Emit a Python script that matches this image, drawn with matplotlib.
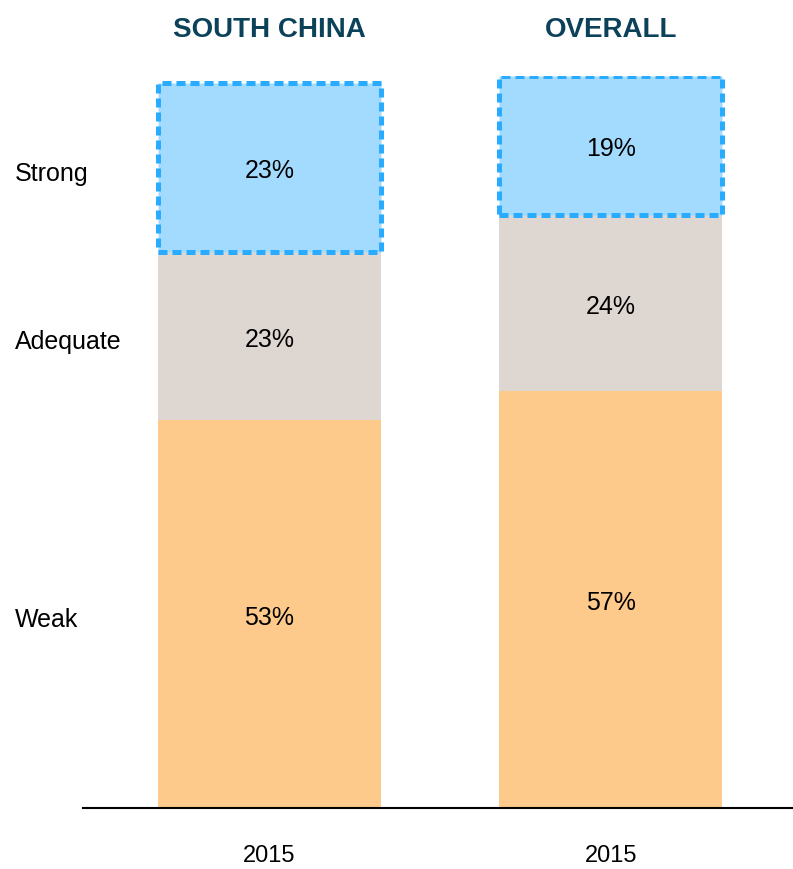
import matplotlib
matplotlib.use("Agg")
import matplotlib.pyplot as plt
from matplotlib import font_manager

# Data
groups = ["SOUTH CHINA", "OVERALL"]
years = ["2015", "2015"]
levels = ["Weak", "Adequate", "Strong"]
weak = [53, 57]
adequate = [23, 24]
strong = [23, 19]

colors = {"Weak": "#FECA8C", "Adequate": "#DED6D1", "Strong": "#A3DBFF"}
edge_blue = "#29ABFF"
title_color = "#0B4259"

names = {f.name for f in font_manager.fontManager.ttflist}
family = "Liberation Sans Narrow" if "Liberation Sans Narrow" in names else "Liberation Sans"
plt.rcParams["font.family"] = [family, "DejaVu Sans"]

fig = plt.figure(figsize=(7.93, 8.70), dpi=100)
ax = fig.add_axes([83 / 793, 61 / 870, 710 / 793, 732 / 870])

x = [0, 1]
width = 0.653
series = [weak, adequate, strong]
bottoms = [0, 0]
for name, vals in zip(levels, series):
    is_strong = name == "Strong"
    ax.bar(x, vals, width=width, bottom=bottoms, color=colors[name],
           edgecolor=edge_blue if is_strong else "none",
           linewidth=3.6 if is_strong else 0,
           linestyle=(0, (1.8, 1.0)) if is_strong else "solid",
           zorder=3 if is_strong else 2)
    for xi, v, b in zip(x, vals, bottoms):
        ax.text(xi, b + v / 2 - 0.4, f"{v}%", ha="center", va="center",
                fontsize=18, color="black", zorder=4)
    bottoms = [b + v for b, v in zip(bottoms, vals)]

# Row labels beside the first bar
lb = 0
for name, v in zip(levels, [weak[0], adequate[0], strong[0]]):
    ax.text(-0.546 - 68 / 341.5, lb + v / 2 - 0.7, name, ha="left", va="center",
            fontsize=18, color="black", clip_on=False)
    lb += v

# Column titles
for xi, g in zip(x, groups):
    ax.text(xi, 106.4, g, ha="center", va="center",
            fontsize=20, fontweight="bold", color=title_color, clip_on=False)

ax.set_xlim(-0.546, 1.533)
ax.set_ylim(0, 100)
ax.set_xticks(x)
ax.set_xticklabels(years, fontsize=17)
ax.tick_params(axis="x", length=0, pad=26)
ax.set_yticks([])
for s in ["top", "right", "left"]:
    ax.spines[s].set_visible(False)
ax.spines["bottom"].set_linewidth(1.5)
ax.spines["bottom"].set_zorder(5)

fig.savefig("out.png", dpi=100)
